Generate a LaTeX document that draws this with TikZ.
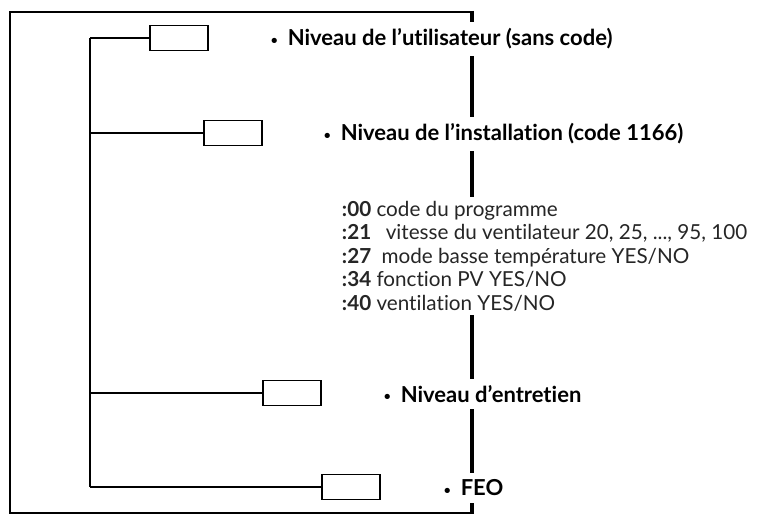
\documentclass[tikz,border=0pt]{standalone}
\usepackage{fontspec}
\setmainfont{Lato}[Ligatures={NoCommon}]
\newcommand{\mybul}{{\fontsize{9}{9}\selectfont\raisebox{0.25ex}{•}}\hspace{0.45em}}
\begin{document}
\begin{tikzpicture}[x=0.75pt,y=-0.75pt,
  box/.style={draw,line width=1pt,minimum width=43.5pt,minimum height=18.5pt,inner sep=0pt},
  lbl/.style={fill=white,anchor=west,font=\fontsize{16.5}{19}\selectfont\bfseries,inner xsep=2pt,inner ysep=5pt},
  ln/.style={line width=1pt}]
\useasboundingbox (0,0) rectangle (757,517);
\draw[line width=1.6pt] (472,12) -- (10,12) -- (10,513) -- (472,513);
\draw[line width=2.4pt] (472,11) -- (472,514);
\node[box] (b1) at (179,38) {};
\node[box] (b2) at (233,133) {};
\node[box] (b3) at (292,393) {};
\node[box] (b4) at (351,487) {};
\coordinate (t1) at (90,38);
\coordinate (t4) at (90,487);
\draw[ln] (t1) -- (t4);
\draw[ln] (t1) -- (b1.west);
\draw[ln] (90,133) -- (b2.west);
\draw[ln] (90,393) -- (b3.west);
\draw[ln] (t4) -- (b4.west);
\node[lbl] (l1) at (268,39) {\mybul Niveau de l’utilisateur (sans code)};
\node[lbl] (l2) at (321,134) {\mybul Niveau de l’installation (code 1166)};
\node[lbl] (l3) at (381,394) {\mybul Niveau d’entretien};
\node[lbl] (l4) at (441,488) {\mybul FEO};
\node[fill=white,anchor=north west,inner xsep=2pt,inner ysep=3pt,align=left,
  font=\fontsize{15.5}{17.6}\selectfont,text=black!85] (list) at (339,197) {%
  \textbf{:00} code du programme\\
  \textbf{:21}\hspace{0.45em} vitesse du ventilateur 20, 25, ..., 95, 100\\
  \textbf{:27}\hspace{0.25em} mode basse température YES/NO\\
  \textbf{:34} fonction PV YES/NO\\
  \textbf{:40} ventilation YES/NO};
\end{tikzpicture}
\end{document}
